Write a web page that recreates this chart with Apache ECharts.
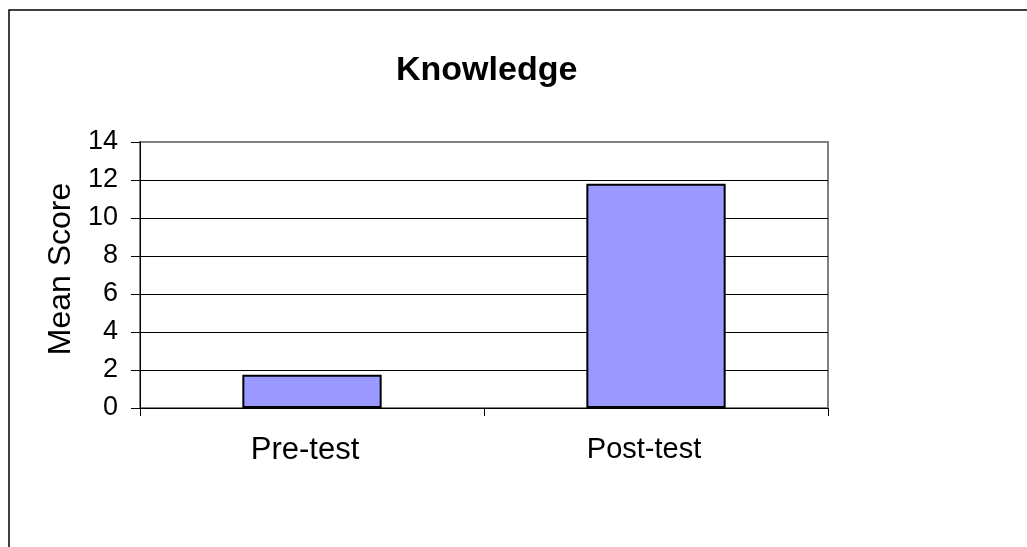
<!DOCTYPE html>
<html>
<head>
<meta charset="utf-8">
<script src="https://cdn.jsdelivr.net/npm/echarts@6/dist/echarts.min.js"></script>
<style>
  html, body { margin: 0; padding: 0; background: #fff; }
  #main { width: 1027px; height: 547px; }
</style>
</head>
<body>
<div id="main"></div>
<script>
// data
var categories = ['Pre-test', 'Post-test'];
var meanScores = [1.75, 11.8];
var yTicks = [0, 2, 4, 6, 8, 10, 12, 14];

var font = 'Liberation Sans, Arial, sans-serif';
var chart = echarts.init(document.getElementById('main'));

// gridlines: black, the top one grey like the plot border
var splitColors = yTicks.map(function (v, i) {
  return i === yTicks.length - 1 ? '#808080' : '#000';
});

// the labels in the original sit a little left of the category centre,
// and the second one is set a bit smaller
var labelPadding = [[0, 14, 0, 0], [0, 24, 0, 0]];
var labelSize = [31, 29];
var xData = categories.map(function (c, i) {
  return { value: c, textStyle: { padding: labelPadding[i], fontSize: labelSize[i] } };
});

chart.setOption({
  backgroundColor: '#fff',
  animation: false,
  // title is centred over the plot, not the page
  title: {
    text: 'Knowledge',
    left: 391,
    top: 49,
    textStyle: { fontFamily: font, fontSize: 34, fontWeight: 'bold', color: '#000' }
  },
  grid: {
    left: 140,
    right: 199,
    top: 142,
    bottom: 139,
    show: true,
    borderColor: '#808080',
    borderWidth: 2,
    backgroundColor: '#fff'
  },
  // outer frame of the chart area
  graphic: [{
    type: 'rect',
    shape: { x: 9, y: 10, width: 1100, height: 700 },
    style: { fill: 'none', stroke: '#000', lineWidth: 1.5 },
    z: -1
  }],
  xAxis: {
    type: 'category',
    data: xData,
    axisLine: { lineStyle: { color: '#000', width: 1 } },
    axisTick: { show: true, length: 8, alignWithLabel: false, lineStyle: { color: '#000' } },
    axisLabel: { margin: 27, fontFamily: font, fontSize: 31, color: '#000' },
    splitLine: { show: false }
  },
  yAxis: {
    type: 'value',
    min: yTicks[0],
    max: yTicks[yTicks.length - 1],
    interval: 2,
    name: 'Mean Score',
    nameLocation: 'middle',
    nameGap: 54,
    nameRotate: 90,
    nameTextStyle: { fontFamily: font, fontSize: 32, color: '#000', padding: [0, 0, 0, 12] },
    axisLine: { show: true, lineStyle: { color: '#000', width: 1 } },
    axisTick: { show: true, length: 9, lineStyle: { color: '#000' } },
    axisLabel: { margin: 22, fontFamily: font, fontSize: 27, color: '#000' },
    splitLine: { show: true, lineStyle: { color: splitColors, width: 1 } }
  },
  series: [{
    type: 'bar',
    data: meanScores,
    barWidth: '40.5%',
    itemStyle: { color: '#9999FF', borderColor: '#000', borderWidth: 2 }
  }]
});
</script>
</body>
</html>
